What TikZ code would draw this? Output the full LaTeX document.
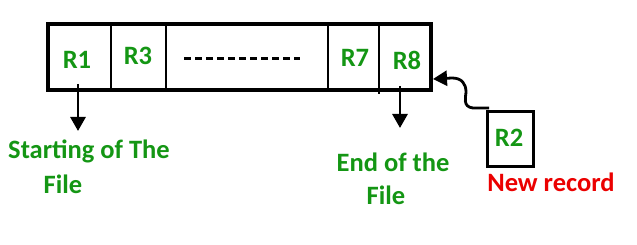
\documentclass[tikz,border=0pt]{standalone}
\usepackage{fontspec}
\setmainfont{Carlito}
\usetikzlibrary{arrows.meta}
\definecolor{gfggreen}{RGB}{20,150,20}
\definecolor{gfgred}{RGB}{235,0,0}
\begin{document}
\begin{tikzpicture}[x=1pt,y=-1pt,
  lbl/.style={font=\fontsize{26.5}{30}\selectfont\bfseries, text=gfggreen, inner sep=0pt},
  redlbl/.style={font=\fontsize{26.5}{30}\selectfont\bfseries, text=gfgred, inner sep=0pt},
  cellline/.style={line width=2.8pt},
  arr/.style={line width=2.8pt, -{Triangle[width=15pt,length=14pt]}}
]
\useasboundingbox (0,0) rectangle (637,245);
% outer file box
\node[draw, line width=3.2pt, minimum width=383pt, minimum height=66pt, inner sep=0pt] (file) at (239.5,57) {};
% dividers
\coordinate (d1t) at (111,24); \coordinate (d1b) at (111,90);
\coordinate (d2t) at (166,24); \coordinate (d2b) at (166,90);
\coordinate (d3t) at (328,24); \coordinate (d3b) at (328,90);
\coordinate (d4t) at (379,24); \coordinate (d4b) at (379,94);
\draw[cellline] (d1t) -- (d1b);
\draw[cellline] (d2t) -- (d2b);
\draw[cellline] (d3t) -- (d3b);
\draw[cellline] (d4t) -- (d4b);
% labels
\node[lbl] (r1) at (77,60) {R1};
\node[lbl] (r3) at (138,56) {R3};
\coordinate (dsA) at (184,59); \coordinate (dsB) at (300,59);
\draw[line width=3pt, dash pattern=on 7pt off 4pt] (dsA) -- (dsB);
\node[lbl] (r7) at (355,58) {R7};
\node[lbl] (r8) at (407,60) {R8};
% arrows down
\coordinate (a1s) at (78,84); \coordinate (a1e) at (78,131);
\draw[arr] (a1s) -- (a1e);
\coordinate (a8s) at (400,86); \coordinate (a8e) at (400,128);
\draw[arr] (a8s) -- (a8e);
% bottom texts
\node[lbl] (start1) at (89,151) {Starting of The};
\node[lbl] (start2) at (63,184) {File};
\node[lbl] (end1) at (393,162) {End of the};
\node[lbl] (end2) at (386,195) {File};
% new record box
\node[draw, line width=3pt, minimum width=46pt, minimum height=55pt, inner sep=0pt] (r2box) at (510,139.5) {};
\node[lbl] (r2) at (509,138) {R2};
\node[redlbl] (newrec) at (551,182) {New record};
% curved arrow
\coordinate (cs) at (489,108);
\coordinate (ce) at (433,79);
\draw[line width=2.8pt, -{Triangle[width=15pt,length=14pt]}]
  (cs) -- (473,108) .. controls (462,107) and (466,96) .. (466,92)
  .. controls (466,84) and (462,78) .. (452,78) -- (ce);
\end{tikzpicture}
\end{document}
